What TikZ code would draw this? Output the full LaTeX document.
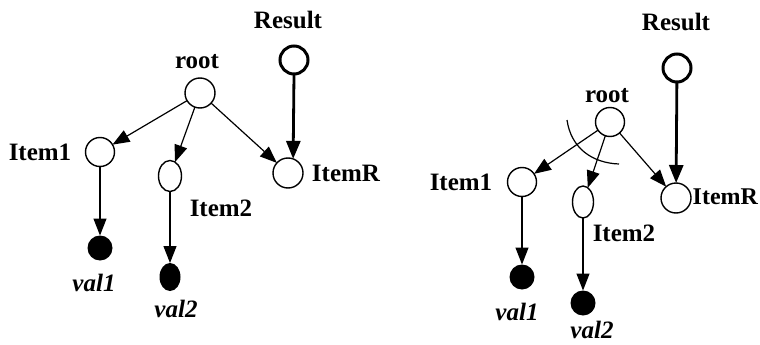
\documentclass[tikz,border=0pt]{standalone}
\usepackage{fontspec}
\setmainfont{Liberation Serif}
\usetikzlibrary{shapes.geometric,arrows.meta}
\begin{document}
\begin{tikzpicture}[x=1pt,y=-1pt,
  every node/.style={inner sep=0pt, outer sep=0pt},
  lbl/.style={font=\fontsize{25}{29}\selectfont\bfseries},
  vlbl/.style={font=\fontsize{25}{30}\selectfont\bfseries\itshape},
  vertex/.style={circle, draw, line width=1.4pt, minimum size=30pt},
  oval/.style={ellipse, draw, line width=1.4pt, minimum width=23pt, minimum height=31pt},
  resnode/.style={circle, draw, line width=3pt, minimum size=28pt},
  leaf/.style={circle, fill, minimum size=25pt},
  edge/.style={line width=1.2pt, -{Triangle[length=17pt,width=13pt]}},
  resedge/.style={line width=2.8pt, -{Triangle[length=18pt,width=14pt]}},
  cut/.style={line width=1.2pt}
]
\clip (0,0) rectangle (760,345);
\fill[white] (0,0) rectangle (760,345);

% ---- left tree ----
\node[lbl] (lResT) at (288,20) {Result};
\node[resnode] (lRes) at (294,60) {};
\node[lbl] (lRootT) at (197,62) {root};
\node[vertex] (lRoot) at (200,93) {};
\node[vertex, minimum size=29pt] (lI1) at (100,152) {};
\node[lbl] (lI1T) at (40,152) {Item1};
\node[oval] (lI2) at (170,176) {};
\node[lbl] (lI2T) at (221,208) {Item2};
\node[vertex] (lIR) at (288,173) {};
\node[lbl] (lIRT) at (346,173) {ItemR};
\node[leaf] (lV1) at (100,248) {};
\node[vlbl] (lV1T) at (94,283) {val1};
\node[leaf, ellipse, minimum width=21pt, minimum height=28pt] (lV2) at (170,277) {};
\node[vlbl] (lV2T) at (176,309) {val2};

\draw[edge] (lRoot) -- (lI1);
\draw[edge] (lRoot) -- (lI2);
\draw[edge] (lRoot) -- (lIR);
\draw[resedge] (lRes.south) -- (lIR.70);
\draw[edge] (lI1) -- (lV1);
\draw[edge] (lI2) -- (lV2);

% ---- right tree, with the cut across the root edges ----
\node[lbl] (rResT) at (676,22) {Result};
\node[resnode] (rRes) at (677,68) {};
\node[lbl] (rRootT) at (607,96) {root};
\node[vertex, minimum size=29pt] (rRoot) at (610,122) {};
\node[vertex, minimum size=29pt] (rI1) at (522,182) {};
\node[lbl] (rI1T) at (461,182) {Item1};
\node[oval, minimum width=21pt, minimum height=32pt] (rI2) at (583,202) {};
\node[lbl] (rI2T) at (624,233) {Item2};
\node[vertex] (rIR) at (676,198) {};
\node[lbl, font=\fontsize{24}{28}\selectfont\bfseries, anchor=east] (rIRT) at (758,197) {ItemR};
\node[leaf] (rV1) at (522,277) {};
\node[vlbl] (rV1T) at (517,312) {val1};
\node[leaf] (rV2) at (583,303) {};
\node[vlbl] (rV2T) at (592,330) {val2};

\draw[edge] (rRoot) -- (rI1);
\draw[edge] (rRoot) -- (rI2);
\draw[edge] (rRoot) -- (rIR);
\draw[resedge] (rRes) -- (rIR);
\draw[edge] (rI1) -- (rV1);
\draw[edge] (rI2) -- (rV2);

\coordinate (cutA) at (567,120);
\coordinate (cutB) at (619,164);
\draw[cut] (cutA) .. controls (571,148) and (592,163) .. (cutB);
\end{tikzpicture}
\end{document}
